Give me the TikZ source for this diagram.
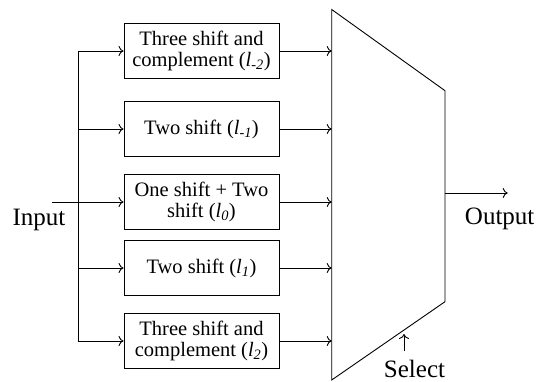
\documentclass[tikz,border=0pt]{standalone}
\usepackage{fontspec}
\setmainfont{Liberation Serif}
\usepackage{tikz}
\usetikzlibrary{arrows.meta,positioning}
\tikzset{
  shiftbox/.style={
    draw,
    line width=0.9pt,
    align=center,
    minimum width=155pt,
    minimum height=55pt,
    inner sep=0pt,
    font=\fontsize{20.5}{21.5}\selectfont
  },
  sidelabel/.style={
    anchor=base,
    inner sep=0pt,
    font=\fontsize{25}{28}\selectfont
  },
  flowarrow/.style={
    -{To[length=5pt,width=10pt]},
    line width=0.9pt
  },
  wire/.style={
    line width=0.9pt
  }
}
\newcommand{\lvl}[1]{(\textit{l}\textsubscript{\textit{#1}})}

\begin{document}
\begin{tikzpicture}[x=1pt,y=-1pt]
    \useasboundingbox (0,0) rectangle (539,382);

    \node[shiftbox] (thrneg) at (201.5,51) {Three shift and\\complement \lvl{-2}};
    \node[shiftbox] (twoneg) at (201.5,129) {Two shift \lvl{-1}};
    \node[shiftbox] (onetwo) at (201.5,202) {One shift + Two\\shift \lvl{0}};
    \node[shiftbox] (twopos) at (201.5,268) {Two shift \lvl{1}};
    \node[shiftbox] (thrpos) at (201.5,341) {Three shift and\\complement \lvl{2}};

    % multiplexer
    \coordinate (muxtl) at (331.7,9.5);
    \coordinate (muxtr) at (445,90.7);
    \coordinate (muxbr) at (445,301.7);
    \coordinate (muxbl) at (331.7,380);
    \draw[wire] (muxtl) -- (muxtr) -- (muxbr) -- (muxbl) -- cycle;

    \node[sidelabel] (input) at (39,225.5) {Input};
    \node[sidelabel] (output) at (499.7,224.5) {Output};
    \node[sidelabel] (select) at (414.5,378) {Select};

    \coordinate (instart) at (51.7,202);
    \coordinate (splittop) at (78.3,51);
    \coordinate (splitbot) at (78.3,341);
    \coordinate (muxout) at (445,193);
    \coordinate (outend) at (507.7,193);
    \coordinate (selfoot) at (404,351);
    \coordinate (seltip) at (404,334);

    \draw[flowarrow] (instart) -- (onetwo.west);
    \draw[wire] (splittop) -- (splitbot);
    \foreach \blk in {thrneg,twoneg,twopos,thrpos}
        \draw[flowarrow] (splittop |- \blk.west) -- (\blk.west);
    \foreach \blk in {thrneg,twoneg,onetwo,twopos,thrpos}
        \draw[flowarrow] (\blk.east) -- (\blk.east -| muxtl);

    \draw[flowarrow] (muxout) -- (outend);
    \draw[flowarrow] (selfoot) -- (seltip);
\end{tikzpicture}
\end{document}
